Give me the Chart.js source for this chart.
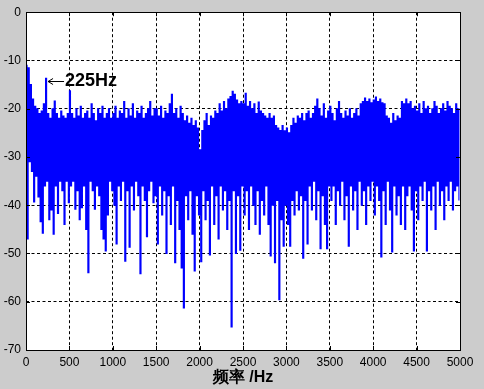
<!DOCTYPE html>
<html>
<head>
<meta charset="utf-8">
<script src="https://cdn.jsdelivr.net/npm/chart.js@4/dist/chart.umd.min.js"></script>
<style>
  html, body { margin: 0; padding: 0; background: #cccccc; }
  #wrap { width: 484px; height: 389px; }
</style>
</head>
<body>
<div id="wrap"><canvas id="chart" width="484" height="389"></canvas></div>
<script>
// Spectrum: one bin every 25 Hz, each bin drawn as a
// peak and a trough so the trace looks like the dense FFT band.
const binHz = 25;

const peakDb = [
  -11, -11.5, -15, -18, -19.5, -20, -21, -20.5, -19, -13.7, -21, -22, -20, -18.4, -21, -22, -20.5, -21.5, -22, -21,
  -16.3, -21, -22, -20, -21.5, -19.5, -22, -21, -20.5, -22, -19, -21, -22.5, -20, -21, -19.5, -22, -21, -20, -22,
  -21, -19.5, -22, -20.5, -21, -18.5, -22, -20, -21.5, -19, -22, -20.5, -21, -19.5, -22, -21, -20, -18.5, -21.5, -20,
  -20, -21.5, -19.5, -22, -20.5, -21, -19, -17, -21, -20, -22, -19.5, -21, -22.5, -21.5, -23, -22, -23.5, -22.5, -24,
  -28.5, -24.5, -22.5, -21, -23.5, -21.5, -22, -20.5, -21, -19, -20.5, -18.5, -20, -18, -17.5, -16.4, -17, -18.2, -19, -18.5,
  -19, -16.8, -19.5, -18.5, -20, -19, -21, -18.6, -20.5, -21, -21.5, -22, -21, -22, -21.5, -23.5, -24, -24.5, -23.5, -24.6,
  -24, -25, -23.5, -22, -23, -21.5, -22, -21, -22.5, -21, -20.5, -22, -21, -19.5, -18, -20, -21.5, -19, -22, -20.5,
  -19.5, -21, -22.5, -20, -18.5, -21, -22, -20.5, -21.5, -20, -22, -21, -20, -21.5, -19, -18.5, -17.8, -18.5, -18, -18.8,
  -18.2, -17.6, -18.5, -18, -18.8, -19, -21.5, -22, -23, -21, -22.5, -21.5, -22, -18.5, -19, -18, -19, -18.5, -20, -19.5,
  -20.5, -19, -21, -18.5, -20, -19.5, -21, -20, -18.5, -19.5, -21, -20, -19, -20.5, -18.5, -19.5, -20, -21, -19, -20
];

const troughDb = [
  -47, -31, -33, -39.3, -34, -38.3, -43.4, -45.8, -36, -35, -43, -41, -46, -36, -41.7, -35, -37, -44, -35, -39.5,
  -36, -35, -40.8, -37, -43, -40.5, -36, -45, -54, -35, -37, -40.8, -36, -38, -45, -47, -49.5, -42, -35, -37,
  -40, -48, -36, -39, -35, -51.6, -37, -48.7, -36, -41, -35, -38, -54.2, -36, -39, -46.5, -37, -35, -39.5, -38,
  -48, -36, -42, -37, -50, -38, -44, -36, -51.9, -39, -45, -53, -61.3, -38, -43, -37, -46, -53.6, -38, -42,
  -51.7, -37, -43, -39, -50.3, -36, -44, -38, -47, -36, -41, -37, -45, -39, -65.2, -37, -50, -38, -49.3, -36,
  -42, -37, -45, -36, -40, -44, -37, -46, -39, -42, -36, -44, -50.5, -40, -51.9, -39, -59.6, -43, -48.5, -40,
  -44, -48.5, -39, -42, -37, -41, -38, -51, -39, -48, -36, -41, -35, -43, -37, -49, -38, -44, -49, -36,
  -39, -36, -44, -37, -40, -35, -43, -38, -48.5, -36, -41, -37, -45, -35, -40, -37, -44, -36, -39, -35,
  -42, -36, -39, -50.7, -37, -44, -35, -41, -49.7, -36, -42, -38, -44, -36, -45, -38, -36, -41, -49.5, -37,
  -43, -36, -39, -35, -49.5, -37, -41, -36, -45, -35, -40, -37, -43, -36, -39, -35, -41, -37, -36, -39
];

const xTicks = [0, 500, 1000, 1500, 2000, 2500, 3000, 3500, 4000, 4500, 5000];
const yTicks = [0, -10, -20, -30, -40, -50, -60, -70];

const xLabel = '频率 /Hz';
const noteText = '225Hz';
const noteHz = 254;
const noteDb = -14.3;

// interleave peaks and troughs into one trace
const spectrum = [];
peakDb.forEach((p, i) => {
  spectrum.push({ x: i * binHz, y: p });
  spectrum.push({ x: i * binHz + binHz / 2, y: troughDb[i] });
});

const FONT = '"Liberation Sans", Arial, Helvetica, sans-serif';

// white plot area, frame, inward tick marks, x label and the 225Hz note
const matlabAxes = {
  id: 'matlabAxes',
  beforeDraw(chart) {
    const { ctx, chartArea: a } = chart;
    ctx.save();
    ctx.fillStyle = '#ffffff';
    ctx.fillRect(a.left, a.top, a.right - a.left, a.bottom - a.top);
    ctx.restore();
  },
  afterDraw(chart) {
    const { ctx, chartArea: a, scales } = chart;
    ctx.save();
    ctx.setLineDash([]);
    ctx.strokeStyle = '#000';
    ctx.lineWidth = 1;
    ctx.strokeRect(Math.round(a.left) + 0.5, Math.round(a.top) + 0.5,
      Math.round(a.right - a.left), Math.round(a.bottom - a.top));

    ctx.beginPath();
    const tl = 4;
    xTicks.forEach((v) => {
      const x = Math.round(scales.x.getPixelForValue(v)) + 0.5;
      ctx.moveTo(x, a.bottom); ctx.lineTo(x, a.bottom - tl);
      ctx.moveTo(x, a.top); ctx.lineTo(x, a.top + tl);
    });
    yTicks.forEach((v) => {
      const y = Math.round(scales.y.getPixelForValue(v)) + 0.5;
      ctx.moveTo(a.left, y); ctx.lineTo(a.left + tl, y);
      ctx.moveTo(a.right, y); ctx.lineTo(a.right - tl, y);
    });
    ctx.stroke();

    // x axis title
    ctx.fillStyle = '#000';
    ctx.font = 'bold 16px ' + FONT;
    ctx.textAlign = 'center';
    ctx.textBaseline = 'middle';
    ctx.fillText(xLabel, (a.left + a.right) / 2, 378);

    // annotation arrow + text
    const ax = scales.x.getPixelForValue(noteHz);
    const ay = Math.round(scales.y.getPixelForValue(noteDb)) + 0.5;
    ctx.beginPath();
    ctx.moveTo(ax, ay); ctx.lineTo(ax + 16, ay);
    ctx.moveTo(ax, ay); ctx.lineTo(ax + 5, ay - 3);
    ctx.moveTo(ax, ay); ctx.lineTo(ax + 5, ay + 3);
    ctx.stroke();
    ctx.font = 'bold 18px ' + FONT;
    ctx.textAlign = 'left';
    ctx.fillText(noteText, ax + 17, ay);
    ctx.restore();
  },
};

new Chart(document.getElementById('chart'), {
  type: 'line',
  data: {
    datasets: [{
      data: spectrum,
      borderColor: '#0000ff',
      borderWidth: 1.1,
      pointRadius: 0,
      stepped: 'before',
      fill: false,
    }],
  },
  options: {
    responsive: false,
    animation: false,
    events: [],
    layout: { padding: { left: 0, top: 8, right: 24, bottom: 0 } },
    plugins: { legend: { display: false }, tooltip: { enabled: false } },
    scales: {
      x: {
        type: 'linear',
        min: 0,
        max: 5000,
        afterFit: (s) => { s.height = 39; },
        afterBuildTicks: (s) => { s.ticks = xTicks.map((v) => ({ value: v })); },
        ticks: {
          color: '#000',
          font: { size: 12, family: FONT },
          padding: 5,
          maxRotation: 0,
          autoSkip: false,
          callback: (v) => String(v),
        },
        grid: { color: '#000', lineWidth: 1, drawTicks: false },
        border: { display: false, dash: [3, 2.5] },
      },
      y: {
        min: -70,
        max: 0,
        afterFit: (s) => { s.width = 26; },
        afterBuildTicks: (s) => { s.ticks = yTicks.map((v) => ({ value: v })); },
        ticks: {
          color: '#000',
          font: { size: 12, family: FONT },
          padding: 5,
          callback: (v) => String(v),
        },
        grid: { color: '#000', lineWidth: 1, drawTicks: false },
        border: { display: false, dash: [3, 2.5] },
      },
    },
  },
  plugins: [matlabAxes],
});
</script>
</body>
</html>
